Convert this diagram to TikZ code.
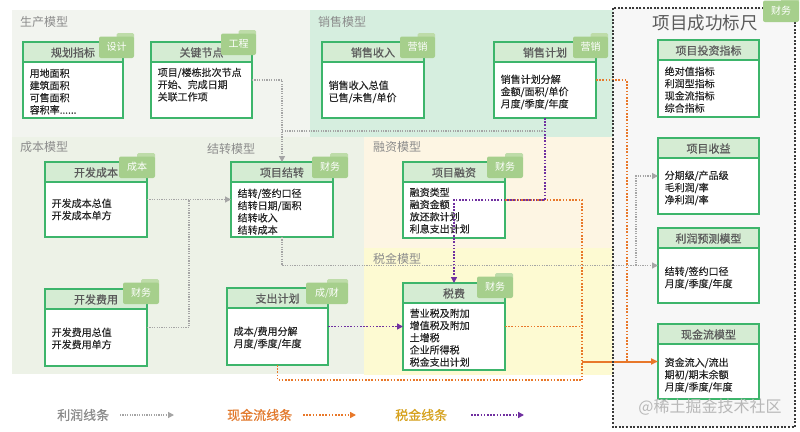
\documentclass[tikz,border=0pt]{standalone}
\usepackage{fontspec}
\setmainfont{Noto Sans CJK SC}
\newfontfamily\hdrfont{Noto Sans CJK SC}[FakeBold=0.6]
\newfontfamily\bodyfont{Noto Sans CJK SC}[FakeBold=0.25]
\usetikzlibrary{arrows.meta}
\definecolor{bxgreen}{HTML}{3DB56B}
\definecolor{hdr}{HTML}{D5ECD3}
\definecolor{fold}{HTML}{A6CF8C}
\definecolor{foldb}{HTML}{BEDCA9}
\definecolor{rgProd}{HTML}{F2F4EF}
\definecolor{rgSale}{HTML}{D6EEDF}
\definecolor{rgCost}{HTML}{EDF2E7}
\definecolor{rgFin}{HTML}{FDF5E3}
\definecolor{rgTax}{HTML}{FDFAD2}
\definecolor{rgSucc}{HTML}{F7F7F7}
\definecolor{lnGrey}{HTML}{A5A5A5}
\definecolor{lnOrange}{HTML}{E8782A}
\definecolor{lnPurple}{HTML}{7030A0}
\definecolor{txGold}{HTML}{D6A21E}
\definecolor{txOrange}{HTML}{E2792C}
\definecolor{txGrey}{HTML}{8C8C8C}
\definecolor{hdrtx}{HTML}{5A5A5A}
\definecolor{bodytx}{HTML}{262626}
\definecolor{frame}{HTML}{3A3A3A}

\newcommand{\ubox}[8]{% name x y w h title firstlineY body
  \fill[white] (#2,#3) rectangle ++(#4,#5);
  \fill[hdr] (#2,#3) rectangle ++(#4,20);
  \draw[bxgreen,line width=1.3pt] ({#2},{#3+20}) -- ++(#4,0);
  \node[boxframe,minimum width=#4pt,minimum height=#5pt,anchor=north west] (#1) at (#2,#3) {};
  \node[hdrtext] (#1-t) at ({#2+#4/2},{#3+10.5}) {#6};
  \node[bodytext] (#1-b) at ({#2+6.5},{#7-4.5}) {#8};
}
\newcommand{\ftab}[5]{% name x y w label
  \fill[foldb,rounded corners=1.5pt] ({#2+#4*0.5},#3) rectangle ({#2+#4},{#3+7});
  \fill[fold,rounded corners=2pt] (#2,{#3+3.5}) rectangle ({#2+#4},{#3+25});
  \node[tabtext] (#1) at ({#2+#4/2},{#3+14}) {#5};
}

\begin{document}
\begin{tikzpicture}[x=1pt,y=-1pt,
  boxframe/.style={draw=bxgreen,line width=1.3pt,inner sep=0pt,outer sep=0pt},
  hdrtext/.style={text=hdrtx,font=\hdrfont\fontsize{11}{13}\selectfont,inner sep=0pt},
  bodytext/.style={text=bodytx,font=\bodyfont\fontsize{10}{12.2}\selectfont,align=left,anchor=north west,inner sep=0pt},
  tabtext/.style={text=white,font=\fontsize{10}{12}\selectfont,inner sep=0pt},
  rglabel/.style={text=txGrey,font=\fontsize{12}{14}\selectfont,anchor=west,inner sep=0pt},
  legtext/.style={font=\hdrfont\fontsize{13}{15}\selectfont,anchor=west,inner sep=0pt},
  gline/.style={draw=lnGrey,line width=1.2pt,dash pattern=on 1.2pt off 1.2pt},
  oline/.style={draw=lnOrange,line width=1.6pt,dash pattern=on 1.6pt off 1.6pt},
  pline/.style={draw=lnPurple,line width=1.6pt,dash pattern=on 1.6pt off 1.6pt},
  tipg/.style={-{Triangle[length=6pt,width=6pt]}},
]
\useasboundingbox (0,0) rectangle (800,431);
\fill[white] (0,0) rectangle (800,431);
% regions
\fill[rgProd] (12,10) rectangle (310,137);
\fill[rgSale] (310,10) rectangle (613,137);
\fill[rgCost] (12,137) rectangle (364,374);
\fill[rgFin] (364,137) rectangle (613,248);
\fill[rgTax] (364,248) rectangle (613,375);
\fill[rgSucc] (613,8) rectangle (795,427);

% region labels
\node[rglabel] (lprod) at (20,22) {生产模型};
\node[rglabel] (lsale) at (318,22) {销售模型};
\node[rglabel] (lcost) at (20,147) {成本模型};
\node[rglabel] (ljz) at (207,149) {结转模型};
\node[rglabel] (lfin) at (373,147) {融资模型};
\node[rglabel] (ltax) at (373,259) {税金模型};
\node[text=hdrtx,font=\fontsize{17.5}{19}\selectfont,inner sep=0pt] (title) at (705,23) {项目成功标尺};

% boxes
\ubox{gh}{23}{42}{100}{76}{规划指标}{73}{用地面积\\建筑面积\\可售面积\\容积率......}
\ubox{gj}{151}{42}{101}{76}{关键节点}{72}{项目/楼栋批次节点\\开始、完成日期\\关联工作项}
\ubox{xs}{322}{42}{102}{76}{销售收入}{85}{销售收入总值\\已售/未售/单价}
\ubox{xj}{494}{42}{102}{76}{销售计划}{79}{销售计划分解\\金额/面积/单价\\月度/季度/年度}
\ubox{tz}{658}{40}{101}{77}{项目投资指标}{71}{绝对值指标\\利润型指标\\现金流指标\\综合指标}
\ubox{sy}{658}{138}{101}{76}{项目收益}{175}{分期级/产品级\\毛利润/率\\净利润/率}
\ubox{lr}{658}{228}{101}{75}{利润预测模型}{271}{结转/签约口径\\月度/季度/年度}
\ubox{xl}{658}{324}{101}{75}{现金流模型}{362}{资金流入/流出\\期初/期末余额\\月度/季度/年度}
\ubox{kc}{45}{162}{102}{75}{开发成本}{203}{开发成本总值\\开发成本单方}
\ubox{jz}{231}{162}{102}{75}{项目结转}{193}{结转/签约口径\\结转日期/面积\\结转收入\\结转成本}
\ubox{rz}{403}{162}{102}{76}{项目融资}{192}{融资类型\\融资金额\\放还款计划\\利息支出计划}
\ubox{kf}{45}{289}{102}{77}{开发费用}{332}{开发费用总值\\开发费用单方}
\ubox{zc}{227}{288}{101}{77}{支出计划}{331}{成本/费用分解\\月度/季度/年度}
\ubox{sf}{403}{283}{102}{87}{税费}{313}{营业税及附加\\增值税及附加\\土增税\\企业所得税\\税金支出计划}

% folder tabs
\ftab{tgh}{99}{33}{35}{设计}
\ftab{tgj}{221}{30}{35}{工程}
\ftab{txs}{400}{33}{35}{营销}
\ftab{txj}{573}{33}{35}{营销}
\ftab{tkc}{119}{153}{36}{成本}
\ftab{tjz}{312}{153}{36}{财务}
\ftab{trz}{487}{153}{36}{财务}
\ftab{tkf}{123}{279}{36}{财务}
\ftab{tzc}{306}{279}{42}{成/财}
\ftab{tsf}{477}{273}{36}{财务}

% grey profit lines
\coordinate (g2s) at (545,131);
\coordinate (g4e) at (189,199.5);
\coordinate (gsplit) at (636,265.5);
\draw[gline,tipg] (gj.east) -| (jz.north);
\draw[gline] (g2s) -- (g2s -| jz.north);
\draw[gline,tipg] (kc.east) -- (jz.west);
\draw[gline] (kf.east) -| (g4e);
\draw[gline,tipg] (jz.south) |- (lr.west);
\draw[gline,tipg] (gsplit) |- (sy.west);

% orange cash lines
\coordinate (obus) at (582,380);
\coordinate (oj2) at (627,361.5);
\draw[oline] (xj.east) -| (oj2);
\draw[oline] (rz.east) -| (obus);
\draw[oline] (sf.east) -- (sf.east -| obus);
\draw[oline] (zc.south) |- (obus);
\draw[draw=lnOrange,line width=2pt,-{Triangle[length=7pt,width=6pt]}] (xl.west -| obus) -- (xl.west);

% purple tax lines
\draw[pline,-{Triangle[length=6pt,width=6pt]}] (xj.south) -- (xj.south |- rz.east) -| (sf.north);
\draw[pline,-{Triangle[length=6pt,width=6pt]}] (zc.east) -- (sf.west);

% success frame
\draw[draw=frame,line width=2pt,dash pattern=on 2pt off 1.6pt] (613,8) rectangle (795,427);
\ftab{tsucc}{763}{-3}{36}{财务}

% legend
\node[legtext,text=txGrey] (lg1) at (57,415) {利润线条};
\coordinate (lg1a) at (120,415); \coordinate (lg1b) at (174,415);
\draw[gline,tipg] (lg1a) -- (lg1b);
\node[legtext,text=txOrange] (lg2) at (227,415) {现金流线条};
\coordinate (lg2a) at (303,415); \coordinate (lg2b) at (356,415);
\draw[oline,-{Triangle[length=6pt,width=6pt]}] (lg2a) -- (lg2b);
\node[legtext,text=txGold] (lg3) at (395,415) {税金线条};
\coordinate (lg3a) at (471,415); \coordinate (lg3b) at (524,415);
\draw[pline,-{Triangle[length=6pt,width=6pt]}] (lg3a) -- (lg3b);

% watermark
\node[text=black!28,font=\fontsize{16}{18}\selectfont,inner sep=0pt] (wm) at (710,407) {@稀土掘金技术社区};
\end{tikzpicture}
\end{document}
